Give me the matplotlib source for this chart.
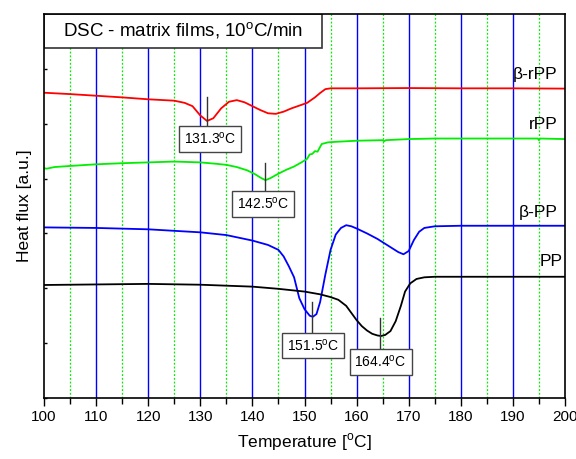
import matplotlib.pyplot as plt
from matplotlib.patches import Rectangle

plt.rcParams['font.family'] = ['Liberation Sans', 'DejaVu Sans']
plt.rcParams['mathtext.fontset'] = 'custom'
plt.rcParams['mathtext.rm'] = 'Liberation Sans'

# beta-rPP (red)
rpp_b_x = [100, 105, 110, 115, 120, 125, 127, 128.5, 130, 131.3, 132.5, 134, 135.5, 137, 138.5, 140,
           141.5, 143, 144.5, 146, 147.5, 149, 150.5, 152, 153, 154, 155, 160, 170, 180, 190, 200]
rpp_b_y = [5.565, 5.54, 5.51, 5.48, 5.445, 5.42, 5.38, 5.32, 5.15, 5.05, 5.10, 5.28, 5.40, 5.43, 5.39, 5.32,
           5.25, 5.19, 5.18, 5.22, 5.28, 5.33, 5.38, 5.48, 5.56, 5.63, 5.645, 5.645, 5.65, 5.645, 5.645, 5.64]

# rPP (green)
rpp_x = [100, 100.5, 102, 105, 110, 115, 120, 125, 130, 133, 135, 137, 139, 140.5, 141.5, 142.5, 143.5,
         145, 146.5, 148, 149.5, 150.5, 151, 151.5, 152, 152.5, 153.3, 154.5, 156, 160, 165, 165.3, 165.6,
         170, 175, 180, 190, 194.8, 195, 195.2, 200]
rpp_y = [4.19, 4.18, 4.21, 4.23, 4.26, 4.28, 4.295, 4.31, 4.295, 4.27, 4.25, 4.21, 4.15, 4.08, 4.02, 3.97, 4.01,
         4.09, 4.16, 4.22, 4.30, 4.36, 4.44, 4.45, 4.50, 4.49, 4.63, 4.66, 4.67, 4.69, 4.70, 4.68, 4.70,
         4.72, 4.73, 4.73, 4.73, 4.73, 4.70, 4.73, 4.72]

# beta-PP (blue)
pp_b_x = [100, 110, 120, 130, 135, 140, 143, 145, 146, 147, 148, 149, 150, 151, 151.6, 152.3, 153, 154,
          155, 156, 157, 158, 159, 160, 162, 164, 166, 168, 169, 170, 171, 172, 173, 175, 180, 190, 200]
pp_b_y = [3.11, 3.10, 3.075, 3.02, 2.97, 2.87, 2.79, 2.70, 2.58, 2.40, 2.20, 1.82, 1.62, 1.50, 1.48, 1.53,
          1.75, 2.25, 2.70, 2.98, 3.10, 3.15, 3.13, 3.09, 3.00, 2.90, 2.78, 2.66, 2.62, 2.68, 2.88, 3.03,
          3.10, 3.13, 3.14, 3.14, 3.14]

# PP (black)
pp_x = [100, 110, 120, 130, 140, 145, 148, 150, 153, 155, 156.5, 158, 159, 160, 161, 162, 163, 164, 164.7,
        165.5, 166.5, 167.5, 168.5, 169.3, 170.3, 171.5, 173, 175, 180, 190, 200]
pp_y = [2.06, 2.07, 2.08, 2.065, 2.03, 1.99, 1.96, 1.94, 1.89, 1.84, 1.79, 1.68, 1.55, 1.42, 1.31, 1.23,
        1.17, 1.14, 1.13, 1.15, 1.22, 1.40, 1.68, 1.94, 2.09, 2.17, 2.20, 2.21, 2.21, 2.21, 2.21]

# peak annotations: peak temp, marker line top/bottom, box centre
peaks = [131.3, 142.5, 151.5, 164.4]
peak_line_top = [5.49, 4.28, 1.755, 1.45]
peak_line_bot = [4.98, 3.79, 1.21, 0.906]
box_x = [131.9, 142.1, 151.7, 164.6]
box_y = [4.72, 3.54, 0.957, 0.66]

names = ['β-rPP', 'rPP', 'β-PP', 'PP']
name_x = [198.5, 198.6, 198.6, 199.6]
name_y = [5.89, 4.98, 3.39, 2.48]

fig = plt.figure(figsize=(5.76, 4.59), dpi=100)
ax = fig.add_axes([0.0764, 0.1329, 0.9045, 0.8366])

for x in range(110, 200, 10):
    ax.axvline(x, color='#0000ff', lw=1.0, zorder=1)
for x in range(105, 200, 10):
    ax.axvline(x, color='#00ee00', lw=0.9, ls=(0, (1.5, 1.5)), zorder=1)

ax.plot(rpp_b_x, rpp_b_y, color='#ff0000', lw=1.3, zorder=3)
ax.plot(rpp_x, rpp_y, color='#00ee00', lw=1.3, zorder=3)
ax.plot(pp_b_x, pp_b_y, color='#0000ff', lw=1.3, zorder=3)
ax.plot(pp_x, pp_y, color='black', lw=1.3, zorder=3)

for t, yt, yb, bx, by in zip(peaks, peak_line_top, peak_line_bot, box_x, box_y):
    ax.plot([t, t], [yt, yb], color='#333333', lw=1.0, zorder=4)
    ax.text(bx, by, f'{t}' + r'$^{\mathrm{o}}$C', fontsize=10, ha='center', va='center', zorder=5,
            bbox=dict(boxstyle='square,pad=0.35', fc='white', ec='#444444', lw=1.0))

for n, x, y in zip(names, name_x, name_y):
    ax.text(x, y, n, fontsize=12.5, ha='right', va='center', zorder=5)

ax.add_patch(Rectangle((0, 0.9115), 0.534, 0.0885, transform=ax.transAxes, fc='white',
                       ec='#333333', lw=1.2, zorder=6))
ax.text(0.267, 0.956, r'DSC - matrix films, 10$^{\mathrm{o}}$C/min', transform=ax.transAxes,
        fontsize=13.5, ha='center', va='center', zorder=7)

ax.set_xlim(100, 200)
ax.set_ylim(0, 7)
ax.set_xticks(range(100, 201, 10))
ax.set_xticks(range(105, 200, 10), minor=True)
ax.set_yticks(range(0, 8))
ax.set_yticklabels([])
ax.tick_params(axis='x', which='major', direction='out', length=6, width=1.0, labelsize=11, pad=3)
ax.tick_params(axis='x', which='minor', direction='out', length=4, width=1.0)
ax.tick_params(axis='y', direction='in', length=2.5, width=1.0)
for s in ax.spines.values():
    s.set_linewidth(1.2)
    s.set_zorder(8)

ax.set_xlabel(r'Temperature [$^{\mathrm{o}}$C]', fontsize=12.5, labelpad=5)
ax.set_ylabel('Heat flux [a.u.]', fontsize=12.5, labelpad=5)

fig.savefig('out.png', dpi=100)
